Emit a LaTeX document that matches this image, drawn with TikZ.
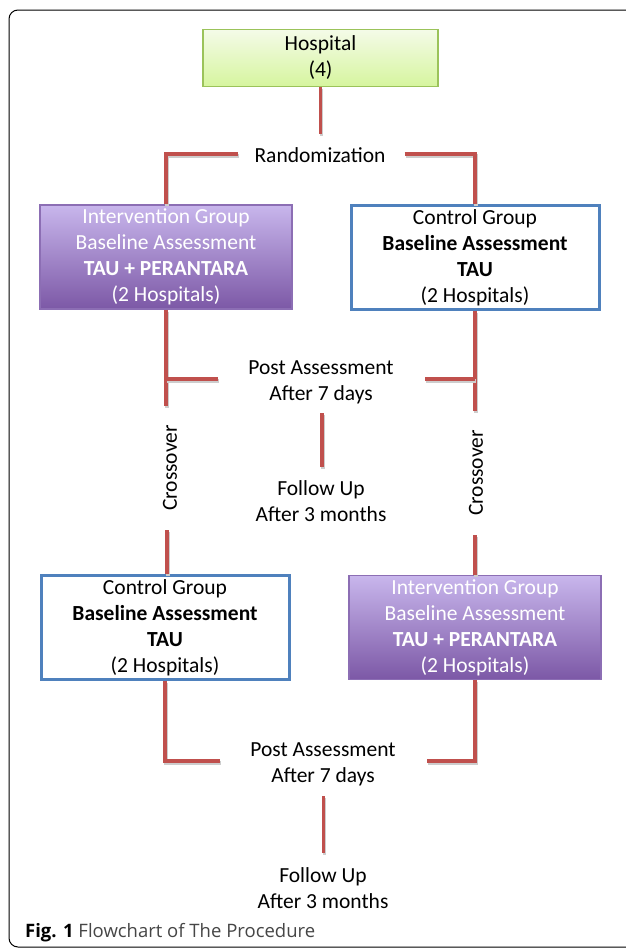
\documentclass[tikz,border=0pt]{standalone}
\usepackage{fontspec}
\setmainfont{Carlito}
\newfontfamily\capfont{Open Sans}
\usetikzlibrary{calc}
\definecolor{lineRed}{RGB}{192,80,77}
\definecolor{boxBlue}{RGB}{79,129,189}
\definecolor{greenTop}{RGB}{244,251,232}
\definecolor{greenBot}{RGB}{214,245,158}
\definecolor{greenEdge}{RGB}{155,195,90}
\definecolor{purTop}{RGB}{200,182,236}
\definecolor{purBot}{RGB}{124,88,166}
\definecolor{purEdge}{RGB}{140,110,180}
\definecolor{capGray}{RGB}{70,70,70}
\definecolor{shadowGray}{RGB}{205,205,205}
\tikzset{
  txt/.style={font=\fontsize{21.5}{26}\selectfont, align=center, inner sep=0pt},
  hospbox/.style={txt, draw=greenEdge, line width=1.5pt, top color=greenTop, bottom color=greenBot,
    minimum width=235pt, minimum height=57pt},
  intbox/.style={txt, text=white, draw=purEdge, line width=1.2pt, top color=purTop, bottom color=purBot,
    minimum width=252pt, minimum height=104pt},
  ctlbox/.style={txt, draw=boxBlue, line width=3pt, fill=white,
    minimum width=248pt, minimum height=104pt},
  conn/.style={draw=lineRed, line width=3.4pt,
    preaction={draw=shadowGray, line width=3.4pt, transform canvas={shift={(1pt,-2pt)}}}},
  rot/.style={txt, rotate=90}
}
\begin{document}
\begin{tikzpicture}[x=1pt, y=-1pt]
\useasboundingbox (0,0) rectangle (625,951);
\fill[white] (0,0) rectangle (625,951);
% frame
\draw[line width=1pt, rounded corners=9pt] (660,10) -- (9,10) -- (9,947) -- (660,947);

% nodes
\node[hospbox] (hosp) at (320.5,58) {Hospital\\(4)};
\node[txt] (rand) at (320,155) {Randomization};
\node[intbox] (int1) at (166,257) {Intervention Group\\Baseline Assessment\\\textbf{TAU + PERANTARA}\\(2 Hospitals)};
\node[ctlbox] (ctl1) at (475,257.5) {Control Group\\\textbf{Baseline Assessment}\\\textbf{TAU}\\(2 Hospitals)};
\node[txt] (post1) at (321,382) {Post Assessment\\After 7 days};
\node[txt] (fol1) at (321,501) {Follow Up\\After 3 months};
\node[rot] (cross1) at (170,468) {Crossover};
\node[rot] (cross2) at (476,473) {Crossover};
\node[ctlbox] (ctl2) at (165,627.5) {Control Group\\\textbf{Baseline Assessment}\\\textbf{TAU}\\(2 Hospitals)};
\node[intbox] (int2) at (475,627.5) {Intervention Group\\Baseline Assessment\\\textbf{TAU + PERANTARA}\\(2 Hospitals)};
\node[txt] (post2) at (323,764) {Post Assessment\\After 7 days};
\node[txt] (fol2) at (323,888) {Follow Up\\After 3 months};
\node[anchor=west, inner sep=0pt, font=\capfont\fontsize{18.5}{22}\selectfont] (cap) at (25,933)
  {\textbf{Fig. 1} \textcolor{capGray}{Flowchart of The Procedure}};

% coordinates for free ends
\coordinate (h1) at (320.5,134);
\coordinate (rl) at (238,154);
\coordinate (rr) at (404.5,154);
\coordinate (a1) at (166,406);
\coordinate (pl1) at (218,379);
\coordinate (b1) at (475,411);
\coordinate (pr1) at (425,379);
\coordinate (m1a) at (322,413);
\coordinate (m1b) at (322,467);
\coordinate (c1) at (167,530);
\coordinate (c2) at (475,535);
\coordinate (pl2) at (220,761);
\coordinate (pr2) at (427,761);
\coordinate (m2a) at (323.5,796);
\coordinate (m2b) at (323.5,853);

% connectors
\draw[conn] (hosp.south) -- (h1);
\draw[conn] (rl) -| (int1.north);
\draw[conn] (rr) -| (ctl1.north);
\draw[conn] (int1.south) -- (a1);
\draw[conn] (pl1) -- (pl1 -| int1.south);
\draw[conn] (ctl1.south) -- (b1);
\draw[conn] (pr1) -- (pr1 -| ctl1.south);
\draw[conn] (m1a) -- (m1b);
\draw[conn] (c1) -- (c1 |- ctl2.north);
\draw[conn] (c2) -- (int2.north);
\draw[conn] (ctl2.south) |- (pl2);
\draw[conn] (int2.south) |- (pr2);
\draw[conn] (m2a) -- (m2b);
\end{tikzpicture}
\end{document}
